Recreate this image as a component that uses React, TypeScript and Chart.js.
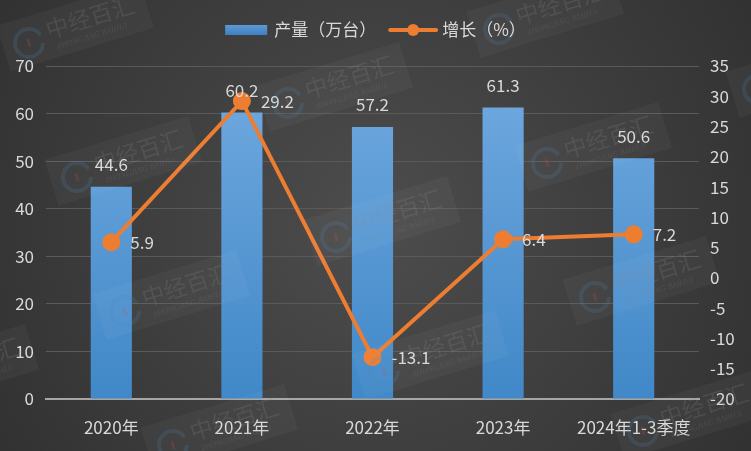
import React, { useEffect, useRef } from "react";
import { Chart, registerables } from "chart.js";

Chart.register(...registerables);

const categories = ["2020年", "2021年", "2022年", "2023年", "2024年1-3季度"];
const output = [44.6, 60.2, 57.2, 61.3, 50.6];
const growth = [5.9, 29.2, -13.1, 6.4, 7.2];
const leftTicks = [0, 10, 20, 30, 40, 50, 60, 70];
const rightTicks = [-20, -15, -10, -5, 0, 5, 10, 15, 20, 25, 30, 35];
const legendBar = "产量（万台）";
const legendLine = "增长（%）";
const watermarkText = "中经百汇";
const watermarkSub = "ZHONGJING BAIHUI";

const FONT = '"Noto Sans CJK SC", "Noto Sans", sans-serif';
const TXT = "#d9d9d9";
const ORANGE = "#ed7d31";

const bgPlugin = {
  id: "bg",
  beforeDraw(chart: any) {
    const { ctx, width, height } = chart;
    ctx.save();
    const g = ctx.createRadialGradient(width / 2, height / 2, 30, width / 2, height / 2, width * 0.62);
    g.addColorStop(0, "#4b4b4b");
    g.addColorStop(1, "#303030");
    ctx.fillStyle = g;
    ctx.fillRect(0, 0, width, height);
    ctx.restore();
  },
};

function drawMark(ctx: CanvasRenderingContext2D, x: number, y: number) {
  ctx.save();
  ctx.translate(x, y);
  ctx.rotate((-17 * Math.PI) / 180);
  ctx.fillStyle = "rgba(255,255,255,0.035)";
  ctx.fillRect(-26, -26, 150, 48);
  ctx.strokeStyle = "rgba(80,140,190,0.18)";
  ctx.lineWidth = 4;
  ctx.beginPath();
  ctx.arc(0, 0, 14, 0.3, Math.PI * 2 - 0.3);
  ctx.stroke();
  ctx.fillStyle = "rgba(200,80,80,0.2)";
  ctx.fillRect(-1.5, -4, 3, 8);
  ctx.fillStyle = "rgba(140,140,140,0.2)";
  ctx.font = `23px ${FONT}`;
  ctx.textBaseline = "middle";
  ctx.textAlign = "left";
  ctx.fillText(watermarkText, 20, -7);
  ctx.font = `italic 8px "Liberation Serif", serif`;
  ctx.fillText(watermarkSub, 26, 12);
  ctx.restore();
}

const watermarkPlugin = {
  id: "watermark",
  afterDatasetsDraw(chart: any) {
    const { ctx, width, height } = chart;
    const ox = 77, oy = 177;
    const a = [259, 60];
    const b = [211, -74];
    for (let i = -4; i <= 4; i++) {
      for (let j = -4; j <= 4; j++) {
        const x = ox + i * a[0] + j * b[0];
        const y = oy + i * a[1] + j * b[1];
        if (x > -160 && x < width + 30 && y > -40 && y < height + 40) drawMark(ctx, x, y);
      }
    }
  },
};

const legendPlugin = {
  id: "customLegend",
  afterDraw(chart: any) {
    const { ctx } = chart;
    ctx.save();
    ctx.font = `17px ${FONT}`;
    ctx.textBaseline = "middle";
    const y = 30;
    const w1 = ctx.measureText(legendBar).width;
    const w2 = ctx.measureText(legendLine).width;
    const total = 42 + 7 + w1 + 14 + 46 + 6 + w2;
    let x = (chart.width - total) / 2;
    const g = ctx.createLinearGradient(0, y - 5, 0, y + 5);
    g.addColorStop(0, "#5b9bd5");
    g.addColorStop(1, "#3f7fc0");
    ctx.fillStyle = g;
    ctx.fillRect(x, y - 5, 42, 10);
    x += 49;
    ctx.fillStyle = TXT;
    ctx.textAlign = "left";
    ctx.fillText(legendBar, x, y);
    x += w1 + 14;
    ctx.strokeStyle = ORANGE;
    ctx.lineWidth = 4;
    ctx.lineCap = "round";
    ctx.beginPath();
    ctx.moveTo(x, y);
    ctx.lineTo(x + 46, y);
    ctx.stroke();
    ctx.fillStyle = ORANGE;
    ctx.beginPath();
    ctx.arc(x + 23, y, 6, 0, Math.PI * 2);
    ctx.fill();
    x += 52;
    ctx.fillStyle = TXT;
    ctx.fillText(legendLine, x, y);
    ctx.restore();
  },
};

const labelPlugin = {
  id: "dataLabels",
  afterDatasetsDraw(chart: any) {
    const { ctx } = chart;
    ctx.save();
    ctx.font = `17px ${FONT}`;
    ctx.fillStyle = TXT;
    ctx.textBaseline = "middle";
    const barMeta = chart.getDatasetMeta(1);
    barMeta.data.forEach((el: any, i: number) => {
      ctx.textAlign = "center";
      ctx.fillText(String(output[i]), el.x, el.y - 22);
    });
    const lineMeta = chart.getDatasetMeta(0);
    lineMeta.data.forEach((el: any, i: number) => {
      ctx.textAlign = "left";
      ctx.fillText(String(growth[i]), el.x + 19, el.y);
    });
    ctx.restore();
  },
};

export default function App() {
  const ref = useRef<HTMLCanvasElement>(null);
  useEffect(() => {
    document.body.style.margin = "0";
    const canvas = ref.current!;
    const chart = new Chart(canvas, {
      type: "bar",
      data: {
        labels: categories,
        datasets: [
          {
            type: "line",
            label: legendLine,
            data: growth,
            yAxisID: "y1",
            borderColor: ORANGE,
            backgroundColor: ORANGE,
            borderWidth: 4,
            pointRadius: 7,
            pointHoverRadius: 7,
            pointBackgroundColor: ORANGE,
            pointBorderColor: ORANGE,
            tension: 0,
            order: 0,
          } as any,
          {
            type: "bar",
            label: legendBar,
            data: output,
            yAxisID: "y",
            backgroundColor: (c: any) => {
              const area = c.chart.chartArea;
              if (!area) return "#5b9bd5";
              const g = c.chart.ctx.createLinearGradient(0, area.top, 0, area.bottom);
              g.addColorStop(0, "#72aae0");
              g.addColorStop(1, "#4088c8");
              return g;
            },
            barPercentage: 0.315,
            categoryPercentage: 1,
            order: 1,
          },
        ],
      },
      options: {
        responsive: false,
        animation: false,
        layout: { padding: { top: 66, left: 0, right: 0, bottom: 0 } },
        plugins: { legend: { display: false }, tooltip: { enabled: false } },
        scales: {
          x: {
            grid: { display: false },
            border: { color: "#a6a6a6", width: 2 },
            ticks: { color: TXT, font: { family: FONT, size: 17 }, padding: 10, maxRotation: 0 },
            afterFit: (s: any) => { s.height = 52; },
          },
          y: {
            position: "left",
            min: 0,
            max: 70,
            afterBuildTicks: (s: any) => { s.ticks = leftTicks.map((v) => ({ value: v })); },
            grid: { color: "#5a5a5a", lineWidth: 1, drawTicks: false },
            border: { display: false },
            ticks: { color: TXT, font: { family: FONT, size: 17 }, padding: 12 },
            afterFit: (s: any) => { s.width = 46; },
          },
          y1: {
            position: "right",
            min: -20,
            max: 35,
            afterBuildTicks: (s: any) => { s.ticks = rightTicks.map((v) => ({ value: v })); },
            grid: { display: false, drawTicks: false },
            border: { display: false },
            ticks: { color: TXT, font: { family: FONT, size: 17 }, padding: 11 },
            afterFit: (s: any) => { s.width = 52; },
          },
        },
      },
      plugins: [bgPlugin, watermarkPlugin, legendPlugin, labelPlugin],
    });
    return () => chart.destroy();
  }, []);
  return <canvas ref={ref} width={751} height={451} style={{ display: "block" }} />;
}
